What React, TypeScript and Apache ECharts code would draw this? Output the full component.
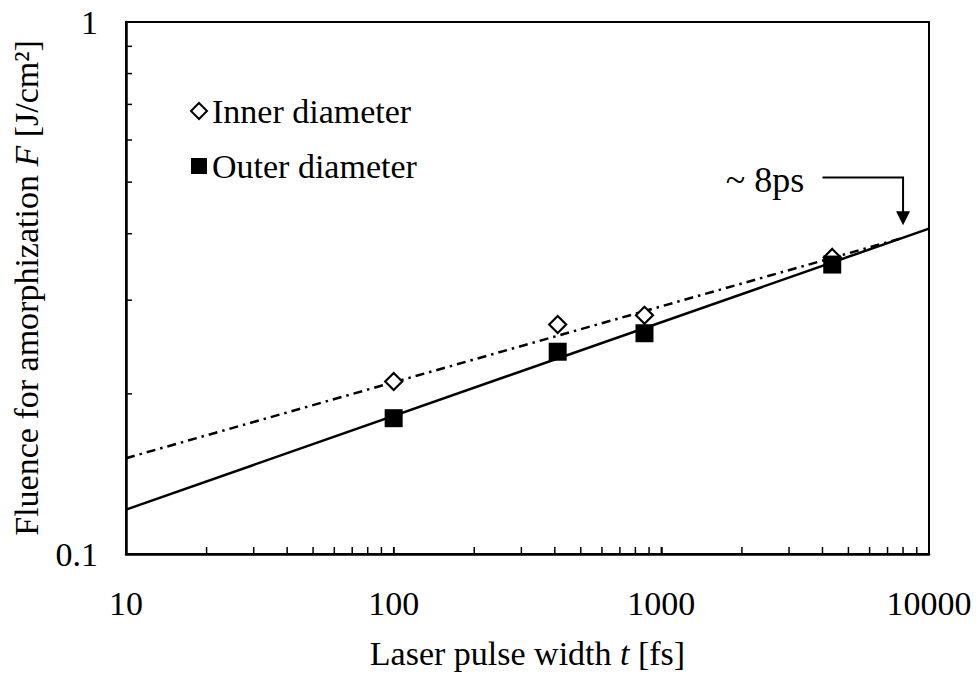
import React, { useEffect, useRef } from "react";
import * as echarts from "echarts";

// ---- Data ----
const pulseWidths = [100, 410, 865, 4350]; // fs
const innerFluence = [0.211, 0.27, 0.281, 0.361]; // J/cm2
const outerFluence = [0.18, 0.24, 0.26, 0.35]; // J/cm2

// fitted lines (power-law fits), endpoints
const outerFitX = [10, 10000];
const outerFitY = [0.1212, 0.409];
const innerFitX = [10, 8000];
const innerFitY = [0.1514, 0.393];

// axes
const xTickLabels = ["10", "100", "1000", "10000"];
const yTickLabels = ["0.1", "1"];
const xMinorTicks = [
  20, 30, 40, 50, 60, 70, 80, 90, 100, 200, 300, 400, 500, 600, 700, 800, 900, 1000,
  2000, 3000, 4000, 5000, 6000, 7000, 8000, 9000,
];
const yMinorTicks = [0.2, 0.3, 0.4, 0.5, 0.6, 0.7, 0.8, 0.9];

// annotation anchor (data coords)
const annotText = "~ 8ps";
const annotArrowX = 8000;
const annotArrowTopY = 0.51;
const annotArrowTipY = 0.415;
const annotLineStartX = 4000;
const annotTextRightX = 3420;

const FONT = "Liberation Serif";

export default function App() {
  const ref = useRef<HTMLDivElement>(null);

  useEffect(() => {
    if (!ref.current) return;
    const chart = echarts.init(ref.current, undefined, { renderer: "svg" });

    const fmt = (v: number, labels: string[]) => {
      const s = String(Number(v.toPrecision(3)));
      return labels.includes(s) ? s : s;
    };

    const option: any = {
      animation: false,
      backgroundColor: "#fff",
      textStyle: { fontFamily: FONT },
      grid: {
        left: 126,
        right: 47,
        top: 22,
        bottom: 115,
        show: true,
        borderColor: "#000",
        borderWidth: 2,
        backgroundColor: "transparent",
      },
      legend: {
        data: ["Inner diameter", "Outer diameter"],
        orient: "vertical",
        left: 185,
        top: 89,
        itemWidth: 16,
        itemHeight: 16,
        itemGap: 21,
        selectedMode: false,
        textStyle: { fontFamily: FONT, fontSize: 34, color: "#000" },
      },
      xAxis: {
        type: "log",
        logBase: 10,
        min: 10,
        max: 10000,
        name: "Laser pulse width {i|t} [fs]",
        nameLocation: "middle",
        nameGap: 82,
        nameTextStyle: {
          fontFamily: FONT,
          fontSize: 34,
          color: "#000",
          rich: { i: { fontFamily: FONT, fontSize: 34, fontStyle: "italic", color: "#000" } },
        },
        axisLine: { show: true, lineStyle: { color: "#000", width: 2.5 } },
        axisTick: { show: true, inside: true, length: 7, lineStyle: { color: "#000", width: 1.5 } },
        axisLabel: {
          fontFamily: FONT,
          fontSize: 34,
          color: "#000",
          margin: 32,
          formatter: (v: number) => fmt(v, xTickLabels),
        },
        splitLine: { show: false },
        minorTick: { show: false },
      },
      yAxis: {
        type: "log",
        logBase: 10,
        min: 0.1,
        max: 1,
        name: "Fluence for amorphization {i|F} [J/cm²]",
        nameLocation: "middle",
        nameGap: 83,
        nameTextStyle: {
          fontFamily: FONT,
          fontSize: 34,
          color: "#000",
          rich: { i: { fontFamily: FONT, fontSize: 34, fontStyle: "italic", color: "#000" } },
        },
        axisLine: { show: true, lineStyle: { color: "#000", width: 2.5 } },
        axisTick: { show: false },
        axisLabel: {
          fontFamily: FONT,
          fontSize: 34,
          color: "#000",
          margin: 28,
          formatter: (v: number) => fmt(v, yTickLabels),
        },
        splitLine: { show: false },
      },
      series: [
        {
          name: "Outer fit",
          type: "line",
          data: outerFitX.map((x, i) => [x, outerFitY[i]]),
          showSymbol: false,
          silent: true,
          lineStyle: { color: "#000", width: 2.5 },
          z: 2,
        },
        {
          name: "Inner fit",
          type: "line",
          data: innerFitX.map((x, i) => [x, innerFitY[i]]),
          showSymbol: false,
          silent: true,
          lineStyle: { color: "#000", width: 2.5, type: [9, 5, 2.5, 5] },
          z: 2,
        },
        {
          name: "Inner diameter",
          type: "scatter",
          symbol: "diamond",
          symbolSize: 17,
          data: pulseWidths.map((x, i) => [x, innerFluence[i]]),
          itemStyle: { color: "#fff", borderColor: "#000", borderWidth: 2.2, opacity: 1 },
          z: 4,
        },
        {
          name: "Outer diameter",
          type: "scatter",
          symbol: "rect",
          symbolSize: 18,
          data: pulseWidths.map((x, i) => [x, outerFluence[i]]),
          itemStyle: { color: "#000", opacity: 1 },
          z: 5,
        },
        {
          name: "x minor ticks",
          type: "custom",
          silent: true,
          data: xMinorTicks.map((v) => [v, 0.1]),
          renderItem: (_p: any, api: any) => {
            const p = api.coord([api.value(0), api.value(1)]);
            return {
              type: "line",
              shape: { x1: p[0], y1: p[1], x2: p[0], y2: p[1] - 7 },
              style: { stroke: "#000", lineWidth: 1.5 },
            };
          },
          z: 3,
        },
        {
          name: "y minor ticks",
          type: "custom",
          silent: true,
          data: yMinorTicks.map((v) => [10, v]),
          renderItem: (_p: any, api: any) => {
            const p = api.coord([api.value(0), api.value(1)]);
            return {
              type: "line",
              shape: { x1: p[0], y1: p[1], x2: p[0] + 6, y2: p[1] },
              style: { stroke: "#000", lineWidth: 1.5 },
            };
          },
          z: 3,
        },
      ],
    };

    chart.setOption(option);

    const c = (x: number, y: number) =>
      chart.convertToPixel({ gridIndex: 0 }, [x, y]) as number[];
    const top = c(annotArrowX, annotArrowTopY);
    const start = c(annotLineStartX, annotArrowTopY);
    const tip = c(annotArrowX, annotArrowTipY);
    const txt = c(annotTextRightX, annotArrowTopY);

    chart.setOption({
      graphic: [
        {
          type: "polyline",
          silent: true,
          shape: {
            points: [
              [start[0], start[1]],
              [top[0], top[1]],
              [tip[0], tip[1] - 12],
            ],
          },
          style: { stroke: "#000", lineWidth: 2, fill: "none" },
          z: 10,
        },
        {
          type: "polygon",
          silent: true,
          shape: {
            points: [
              [tip[0] - 7, tip[1] - 14],
              [tip[0] + 7, tip[1] - 14],
              [tip[0], tip[1]],
            ],
          },
          style: { fill: "#000" },
          z: 10,
        },
        {
          type: "text",
          silent: true,
          x: txt[0],
          y: txt[1] + 2,
          style: {
            text: annotText,
            fontFamily: FONT,
            fontSize: 36,
            fill: "#000",
            align: "right",
            verticalAlign: "middle",
          },
          z: 10,
        },
      ],
    });

    return () => chart.dispose();
  }, []);

  return (
    <div
      ref={ref}
      style={{ position: "absolute", left: 0, top: 0, width: 976, height: 675 }}
    />
  );
}
